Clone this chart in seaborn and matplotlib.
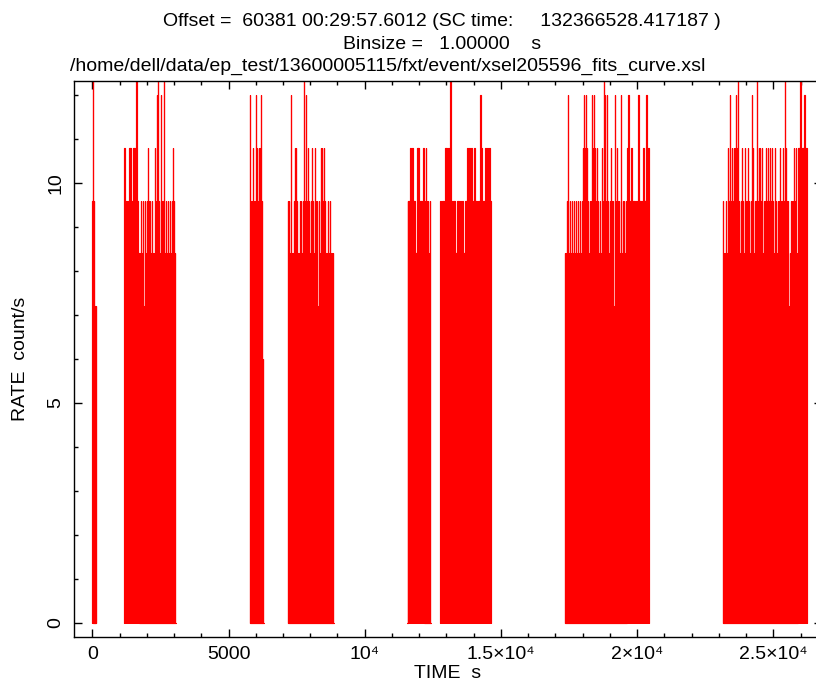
import numpy as np
import pandas as pd
import matplotlib
matplotlib.use("Agg")
import matplotlib.pyplot as plt
import seaborn as sns
from matplotlib.ticker import MultipleLocator

sns.set_style("ticks")
plt.rcParams["font.family"] = ["Liberation Sans", "DejaVu Sans"]
plt.rcParams["text.color"] = "black"
plt.rcParams["axes.labelcolor"] = "black"
plt.rcParams["xtick.color"] = "black"
plt.rcParams["ytick.color"] = "black"

# ---------------- data ----------------
# light-curve rate quantum (count/s per detected event in a 1 s bin)
RATE_STEP = 1.2

# good-time segments: start / stop time (s)
seg_start = [0, 1177, 5772, 7170, 11570, 12746, 17342, 23140]
seg_stop = [135, 3066, 6290, 8860, 12416, 14647, 20441, 26239]

# peak level in each plotted column (units of RATE_STEP); 11 = off-scale spike
seg1_levels = [8, 8, 11, 8, 6, 6, 6, 6]
seg2_levels = [9, 8, 7, 8, 7, 9, 9, 8, 7, 9, 9, 8, 11, 8, 7, 7, 8, 7, 8, 6,
               8, 7, 8, 9, 8, 8, 7, 8, 7, 7, 9, 8, 10, 11, 8, 7, 10, 8, 8, 11,
               7, 8, 7, 8, 7, 8, 7, 8, 9, 8, 7]
seg3_levels = [10, 8, 8, 9, 8, 8, 10, 9, 8, 9, 9, 10, 8, 5]
seg4_levels = [8, 8, 7, 10, 7, 7, 8, 9, 9, 8, 7, 7, 8, 8, 7, 8, 11, 8, 10, 8,
               9, 8, 7, 8, 9, 8, 7, 9, 8, 8, 6, 8, 7, 9, 9, 8, 9, 8, 7, 7,
               8, 7, 8, 7, 7, 7]
seg5_levels = [8, 8, 8, 9, 8, 9, 8, 8, 7, 7, 9, 9, 7, 8, 8, 7, 9, 8, 9, 8,
               8, 7, 8]
seg6_levels = [8, 8, 7, 8, 8, 7, 9, 9, 8, 9, 8, 11, 8, 7, 8, 8, 7, 7, 8, 8,
               6, 8, 7, 8, 7, 7, 8, 8, 9, 8, 9, 8, 9, 8, 7, 9, 8, 8, 7, 8,
               8, 10, 9, 8, 7, 8, 9, 8, 9, 8, 9, 8]
seg7_levels = [7, 7, 8, 10, 7, 8, 7, 8, 7, 8, 7, 8, 7, 8, 7, 8, 7, 8, 9, 10,
               9, 10, 9, 8, 7, 8, 8, 10, 9, 10, 9, 8, 9, 8, 7, 8, 7, 9, 8, 11,
               10, 8, 10, 8, 7, 8, 9, 8, 8, 6, 10, 8, 9, 8, 8, 7, 10, 7, 8, 8,
               7, 8, 9, 10, 8, 7, 9, 7, 8, 8, 7, 8, 7, 10, 8, 8, 7, 8, 9, 8,
               8, 10, 8, 9]
seg8_levels = [8, 7, 7, 8, 7, 9, 8, 10, 8, 9, 8, 9, 9, 10, 9, 11, 8, 7, 8, 9,
               8, 7, 9, 8, 8, 9, 8, 7, 8, 10, 9, 7, 8, 8, 11, 8, 9, 9, 8, 9,
               7, 8, 8, 9, 8, 9, 8, 9, 8, 9, 8, 7, 9, 8, 7, 8, 8, 9, 8, 8,
               9, 8, 11, 9, 8, 8, 6, 7, 8, 8, 8, 9, 8, 9, 7, 9, 9, 11, 8, 9,
               9, 10, 8, 9]
seg_levels = [seg1_levels, seg2_levels, seg3_levels, seg4_levels,
              seg5_levels, seg6_levels, seg7_levels, seg8_levels]

x_tick_values = [0, 5000, 10000, 15000, 20000, 25000]
x_tick_labels = ["0", "5000", "10\u2074", "1.5\u00d710\u2074", "2\u00d710\u2074", "2.5\u00d710\u2074"]
y_tick_values = [0, 5, 10]
y_tick_labels = ["0", "5", "10"]

title_lines = [
    "Offset =  60381 00:29:57.6012 (SC time:     132366528.417187 )",
    "Binsize =   1.00000    s",
    "/home/dell/data/ep_test/13600005115/fxt/event/xsel205596_fits_curve.xsl",
]

# ---------------- build table ----------------
rows = []
for s, (t0, t1, lv) in enumerate(zip(seg_start, seg_stop, seg_levels)):
    n = len(lv)
    w = (t1 - t0) / n
    rows.append((s, t0, 0.0))
    for i, k in enumerate(lv):
        c = t0 + (i + 0.5) * w
        rows.append((s, c - w / 4, k * RATE_STEP))
        rows.append((s, c + w / 4, 0.0))
    rows.append((s, t1, 0.0))
df = pd.DataFrame(rows, columns=["segment", "time", "rate"])

# ---------------- figure ----------------
W, H = 816, 682
fig = plt.figure(figsize=(W / 100, H / 100), dpi=100)
L, R, T, B = 74, 822, 81, 637
ax = fig.add_axes([L / W, 1 - B / H, (R - L) / W, (B - T) / H])

sns.lineplot(data=df, x="time", y="rate", units="segment", estimator=None,
             color="#ff0000", lw=0.85, drawstyle="steps-mid", ax=ax,
             legend=False, sort=False)

ax.set_xlim(-672, 26788)
ax.set_ylim(-0.318, 12.318)

ax.set_xticks(x_tick_values)
ax.set_xticklabels(x_tick_labels)
ax.set_yticks(y_tick_values)
ax.set_yticklabels(y_tick_labels)
ax.xaxis.set_minor_locator(MultipleLocator(1000))
ax.yaxis.set_minor_locator(MultipleLocator(1))

ax.tick_params(which="both", direction="in", top=True, right=True,
               color="black", width=1.0)
ax.tick_params(which="major", length=6)
ax.tick_params(which="minor", length=3)
ax.tick_params(axis="x", labelsize=14, pad=6.5, labelcolor="black")
ax.tick_params(axis="y", labelsize=14, pad=7, labelcolor="black")
for lab in ax.get_yticklabels():
    lab.set_rotation(90)
    lab.set_va("center")
    lab.set_ha("right")

for sp in ax.spines.values():
    sp.set_color("black")
    sp.set_linewidth(1.0)

ax.set_xlabel("TIME  s", fontsize=14, color="black")
ax.xaxis.label.set_va("baseline")
ax.xaxis.set_label_coords(0.5, -(677.5 - B) / (B - T))
ax.set_ylabel("RATE  count/s", fontsize=14, color="black")
ax.yaxis.label.set_va("center")
ax.yaxis.set_label_coords(-(L - 21) / (R - L), 0.5)

fig.text(442 / W, 1 - 26 / H, title_lines[0], ha="center", va="baseline", fontsize=14, color="black")
fig.text(442 / W, 1 - 49 / H, title_lines[1], ha="center", va="baseline", fontsize=14, color="black")
fig.text(70 / W, 1 - 71 / H, title_lines[2], ha="left", va="baseline", fontsize=14, color="black")

fig.savefig("out.png", dpi=100)
